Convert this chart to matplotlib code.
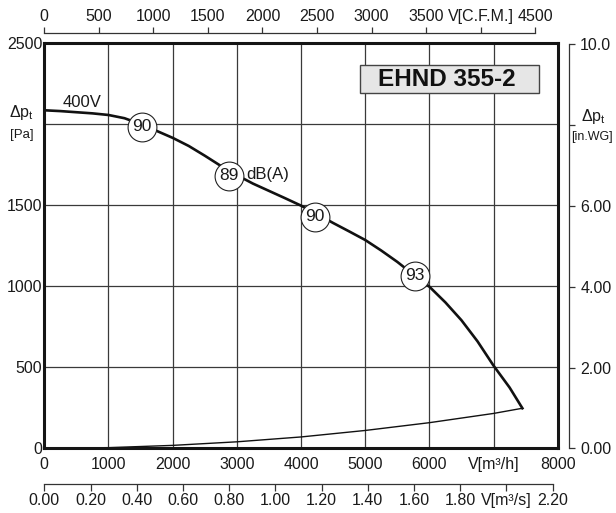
import numpy as np
import matplotlib
matplotlib.use("Agg")
import matplotlib.pyplot as plt
from matplotlib.patches import Rectangle

plt.rcParams['font.family'] = ['Liberation Sans', 'DejaVu Sans']
plt.rcParams['mathtext.fontset'] = 'custom'
plt.rcParams['mathtext.rm'] = 'Liberation Sans'
plt.rcParams['mathtext.it'] = 'Liberation Sans'
plt.rcParams['mathtext.bf'] = 'Liberation Sans:bold'

# fan curve 400V, airflow in m3/h, pressure in Pa
fan_flow = [0, 250, 500, 750, 1000, 1250, 1500, 1750, 2000, 2250, 2500, 2750, 3000,
            3250, 3500, 3750, 4000, 4250, 4500, 4750, 5000, 5250, 5500, 5750, 6000,
            6250, 6500, 6750, 7000, 7250, 7450]
fan_pressure = [2085, 2080, 2073, 2066, 2056, 2036, 2000, 1958, 1915, 1865, 1805, 1742, 1685,
                1633, 1588, 1543, 1497, 1445, 1390, 1338, 1285, 1220, 1150, 1072, 997,
                900, 790, 660, 510, 375, 247]

# system / loss curve
sys_flow = [0, 1000, 2000, 3000, 4000, 5000, 6000, 7000, 7450]
sys_pressure = [0, 4, 18, 40, 70, 110, 158, 215, 247]

# sound level markers dB(A)
noise_flow = [1522, 2882, 4216, 5774]
noise_pressure = [1984, 1680, 1429, 1063]
noise_labels = ['90', '89', '90', '93']

m3h_ticks = [0, 1000, 2000, 3000, 4000, 5000, 6000, 7000, 8000]
m3h_labels = ['0', '1000', '2000', '3000', '4000', '5000', '6000', 'V[m³/h]', '8000']
pa_ticks = [0, 500, 1000, 1500, 2000, 2500]
pa_labels = ['0', '500', '1000', '1500', '', '2500']
cfm_ticks = [0, 500, 1000, 1500, 2000, 2500, 3000, 3500, 4000, 4500]
cfm_labels = ['0', '500', '1000', '1500', '2000', '2500', '3000', '3500', 'V[C.F.M.]', '4500']
ms_ticks = [0.0, 0.2, 0.4, 0.6, 0.8, 1.0, 1.2, 1.4, 1.6, 1.8, 2.0, 2.2]
ms_labels = ['0.00', '0.20', '0.40', '0.60', '0.80', '1.00', '1.20', '1.40', '1.60', '1.80',
             'V[m³/s]', '2.20']
wg_ticks = [0, 2, 4, 6, 8, 10]
wg_labels = ['0.00', '2.00', '4.00', '6.00', '', '10.0']

title = 'EHND 355-2'

W_PX, H_PX = 616, 513
fig = plt.figure(figsize=(W_PX / 100, H_PX / 100), dpi=100)

x0, x1 = 44.3, 557.7
y_top, y_bot = 43.0, 448.3
L = x0 / W_PX
Wd = (x1 - x0) / W_PX
B = 1 - y_bot / H_PX
Ht = (y_bot - y_top) / H_PX

ax = fig.add_axes([L, B, Wd, Ht])
ax.set_xlim(0, 8000)
ax.set_ylim(0, 2500)
ax.set_xticks(m3h_ticks)
ax.set_xticklabels(m3h_labels)
ax.set_yticks(pa_ticks)
ax.set_yticklabels(pa_labels)
ax.tick_params(axis='x', length=0, pad=6, labelsize=11.5, colors='#1a1a1a')
ax.tick_params(axis='y', length=0, pad=1.5, labelsize=11.5, colors='#1a1a1a')
ax.grid(True, color='#3a3a3a', lw=0.9)
ax.set_axisbelow(True)
for s in ax.spines.values():
    s.set_linewidth(2.2)
    s.set_color('#151515')

ax.plot(fan_flow, fan_pressure, color='#111111', lw=1.9, zorder=2, solid_joinstyle='round')
ax.plot(sys_flow, sys_pressure, color='#111111', lw=1.0, zorder=2)
ax.plot([fan_flow[-1], sys_flow[-1]], [fan_pressure[-1], sys_pressure[-1]],
        color='#111111', lw=1.0, zorder=2)

ax.scatter(noise_flow, noise_pressure, s=430, facecolor='white', edgecolor='#222222',
           linewidth=0.8, zorder=3)
for fx, fy, lab in zip(noise_flow, noise_pressure, noise_labels):
    ax.text(fx, fy, lab, ha='center', va='center', fontsize=12.5, color='#1a1a1a', zorder=4)

# top C.F.M. scale
ax_cfm = fig.add_axes([L, 1 - 33.3 / H_PX, Wd, 0])
ax_cfm.set_xlim(0, 8000 / 1.7)
ax_cfm.set_yticks([])
for k in ['left', 'right', 'bottom']:
    ax_cfm.spines[k].set_visible(False)
ax_cfm.spines['top'].set_bounds(0, 4500)
ax_cfm.spines['top'].set_linewidth(0.9)
ax_cfm.spines['top'].set_color('#333333')
ax_cfm.xaxis.set_ticks_position('top')
ax_cfm.set_xticks(cfm_ticks)
ax_cfm.set_xticklabels(cfm_labels)
ax_cfm.tick_params(axis='x', direction='out', length=4.5, width=0.9, color='#333333',
                   pad=2, labelsize=11.5, labelcolor='#1a1a1a')
ax_cfm.patch.set_visible(False)

# bottom m3/s scale
ax_ms = fig.add_axes([L, 1 - 484.3 / H_PX, Wd, 0])
ax_ms.set_xlim(0, 8000 / 3600)
ax_ms.set_yticks([])
for k in ['left', 'right', 'top']:
    ax_ms.spines[k].set_visible(False)
ax_ms.spines['bottom'].set_bounds(0, 2.2)
ax_ms.spines['bottom'].set_linewidth(0.9)
ax_ms.spines['bottom'].set_color('#333333')
ax_ms.set_xticks(ms_ticks)
ax_ms.set_xticklabels(ms_labels)
ax_ms.tick_params(axis='x', direction='out', length=5.3, width=0.9, color='#333333',
                  pad=1.2, labelsize=11.5, labelcolor='#1a1a1a')
ax_ms.patch.set_visible(False)

# right in.WG scale
ax_wg = fig.add_axes([569.3 / W_PX, B, 0, Ht])
ax_wg.set_ylim(0, 2500 / 249.1)
ax_wg.set_xticks([])
for k in ['left', 'top', 'bottom']:
    ax_wg.spines[k].set_visible(False)
ax_wg.spines['right'].set_bounds(0, 10)
ax_wg.spines['right'].set_linewidth(0.9)
ax_wg.spines['right'].set_color('#333333')
ax_wg.yaxis.set_ticks_position('right')
ax_wg.set_yticks(wg_ticks)
ax_wg.set_yticklabels(wg_labels)
ax_wg.tick_params(axis='y', direction='out', length=4.3, width=0.9, color='#333333',
                  pad=3.5, labelsize=11.5, labelcolor='#1a1a1a')
ax_wg.patch.set_visible(False)

def px(x, y):
    return x / W_PX, 1 - y / H_PX

fig.text(*px(9, 113), r'$\Delta p_t$', ha='left', va='center', fontsize=11.5, color='#1a1a1a')
fig.text(*px(10, 135), '[Pa]', ha='left', va='center', fontsize=9.5, color='#1a1a1a')
fig.text(*px(581, 116), r'$\Delta p_t$', ha='left', va='center', fontsize=11.5, color='#1a1a1a')
fig.text(*px(571, 137), '[in.WG]', ha='left', va='center', fontsize=9, color='#1a1a1a')
fig.text(*px(82, 102.7), '400V', ha='center', va='center', fontsize=12, color='#1a1a1a')
fig.text(*px(246, 175), 'dB(A)', ha='left', va='center', fontsize=12, color='#1a1a1a')

bx0, by0 = px(360, 93.3)
bx1, by1 = px(539, 65)
fig.patches.append(Rectangle((bx0, by0), bx1 - bx0, by1 - by0, transform=fig.transFigure,
                             facecolor='#e6e6e6', edgecolor='#444444', lw=1.0, zorder=5))
fig.text((bx0 + bx1) / 2 - 3 / W_PX, (by0 + by1) / 2, title, ha='center', va='center',
         fontsize=17.5, fontweight='bold', color='#111111', zorder=6)

fig.savefig('out.png', dpi=100)
